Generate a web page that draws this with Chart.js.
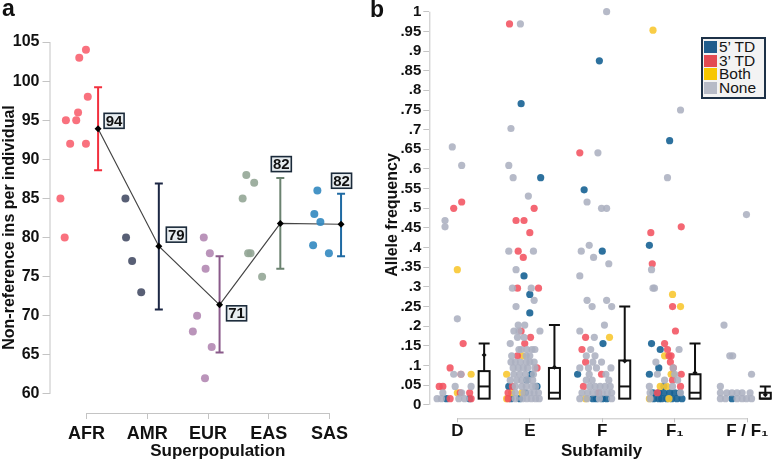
<!DOCTYPE html>
<html>
<head>
<meta charset="utf-8">
<script src="https://cdn.jsdelivr.net/npm/chart.js@4.4.1/dist/chart.umd.min.js"></script>
<style>
  body { margin: 0; background: #fff; width: 778px; height: 463px; position: relative; overflow: hidden; font-family: "Liberation Sans", Arial, sans-serif; }
  #panelA { position: absolute; left: 0; top: 0; }
  #panelB { position: absolute; left: 384px; top: 0; }
  #legend { position: absolute; left: 701px; top: 37px; width: 61px; height: 57px; border: 2px solid #1d3147; background: #f3f3f3; padding-top: 1px; }
  #legend div { height: 13.7px; line-height: 13.7px; font-size: 15.5px; color: #151515; white-space: nowrap; }
  #legend span { display: inline-block; width: 13px; height: 12px; margin: 0 2px 0 1px; vertical-align: -1px; }
</style>
</head>
<body>
<canvas id="panelA" width="390" height="463"></canvas>
<canvas id="panelB" width="394" height="463"></canvas>
<div id="legend"></div>
<script>
// ---- panel a: insertions per individual ----
const groups = ['AFR', 'AMR', 'EUR', 'EAS', 'SAS'];
// [jittered x, count]
const afrPts = [[-0.43, 85], [-0.36, 80], [-0.34, 95], [-0.27, 92], [-0.17, 95], [-0.14, 96], [-0.12, 103], [-0.01, 104], [0.02, 98], [-0.01, 92]];
const amrPts = [[0.64, 85], [0.65, 80], [0.75, 77], [0.90, 73]];
const eurPts = [[1.93, 80], [2.03, 78], [1.96, 76], [1.82, 70], [1.75, 68], [2.06, 66], [1.95, 62]];
const easPts = [[2.63, 88], [2.76, 87], [2.57, 85], [2.66, 78], [2.70, 78], [2.89, 75]];
const sasPts = [[3.80, 86], [3.75, 83], [3.85, 82], [3.73, 79], [3.99, 78]];
const meanIns = [93.9, 78.9, 71.4, 81.8, 81.7];
const sdLow = [88.6, 70.8, 65.3, 76.0, 77.6];
const sdHigh = [99.2, 86.9, 77.6, 87.6, 85.6];

// ---- panel b: allele frequency by subfamily ----
const subfamilies = ['D', 'E', 'F', 'F\u2081', 'F / F\u2081'];
const ptsNone = [
  [-0.07, .656], [0.06, .609], [-0.17, .469], [-0.17, .453], [0.0, .219], [-0.05, .078], [0.05, .078], [-0.03, .047], [0.19, .047], [-0.2, .031], [0.06, .031], [-0.28, .016], [-0.22, .016], [0.02, .016], [0.1, .016],
  [0.87, .969], [0.74, .703], [0.71, .609], [0.77, .578], [0.98, .531], [0.71, .391], [1.05, .391], [0.81, .344], [0.76, .297], [1.02, .297], [1.06, .266], [0.81, .25], [0.84, .203], [0.93, .203], [0.78, .188], [0.85, .188], [1.14, .188], [0.83, .172], [0.92, .172], [0.73, .156],
  [0.85, .141], [0.88, .141], [0.96, .141], [1.03, .141], [1.07, .141], [0.75, .125], [0.95, .125], [1.0, .125], [0.74, .109], [0.8, .109], [0.87, .109], [0.95, .109], [1.0, .109], [1.06, .109],
  [0.77, .094], [0.84, .094], [0.91, .094], [0.97, .094], [1.07, .094], [0.78, .078], [0.86, .078], [0.94, .078], [1.05, .078], [0.73, .063], [0.82, .063], [0.89, .063], [0.97, .063], [1.04, .063],
  [0.8, .047], [0.89, .047], [0.95, .047], [1.03, .047], [1.08, .047], [0.8, .031], [0.92, .031], [1.0, .031], [1.06, .031], [1.12, .031], [0.8, .016], [0.9, .016], [0.96, .016], [1.02, .016], [1.08, .016], [1.13, .016],
  [2.06, 1.0], [1.94, .641], [1.79, .516], [1.99, .5], [2.06, .5], [1.82, .406], [1.71, .391], [1.88, .375], [2.09, .359], [1.69, .328], [1.79, .266], [2.06, .266], [1.86, .25], [2.13, .25], [2.03, .203], [1.69, .188], [1.89, .172], [1.84, .141],
  [1.78, .125], [1.9, .125], [1.87, .109], [1.99, .109], [1.69, .094], [1.81, .094], [1.92, .094], [2.12, .094], [1.82, .078], [2.05, .078], [1.78, .063], [1.86, .063], [2.09, .063],
  [1.83, .047], [1.9, .047], [1.97, .047], [2.04, .047], [2.11, .047], [1.72, .031], [1.8, .031], [1.87, .031], [1.94, .031], [2.0, .031], [2.07, .031], [2.13, .031], [1.69, .016], [1.79, .016], [1.96, .016], [2.13, .016],
  [3.08, .75], [2.9, .578], [2.68, .344], [2.7, .297], [2.72, .297], [3.06, .141], [2.74, .109], [2.98, .094], [2.76, .078], [3.0, .078], [2.86, .063], [3.04, .063], [2.65, .047], [2.97, .047], [2.66, .031], [3.08, .031], [2.66, .016],
  [3.99, .484], [3.68, .203], [3.76, .125], [3.8, .125], [4.06, .078], [3.63, .047], [3.63, .031], [3.72, .031], [3.79, .031], [3.86, .031], [3.93, .031], [4.04, .031], [3.63, .016], [3.7, .016], [3.86, .016], [3.93, .016], [3.99, .016], [4.06, .016]
];
const pts3TD = [
  [0.06, .516], [-0.05, .5], [0.08, .156], [-0.1, .094], [0.05, .078], [-0.25, .047], [-0.2, .047], [0.17, .031], [0.04, .031], [-0.1, .016], [0.19, .016],
  [0.72, .969], [1.06, .5], [0.81, .469], [0.92, .469], [1.0, .438], [0.84, .391], [0.91, .375], [0.83, .297], [1.12, .297], [0.88, .188], [1.01, .172], [0.93, .156], [0.83, .125], [1.1, .094], [0.76, .047], [0.7, .031], [0.7, .016],
  [1.69, .641], [1.77, .172], [1.72, .141], [1.77, .109], [1.99, .078], [1.74, .047], [1.95, .031],
  [2.67, .438], [3.09, .453], [2.69, .359], [2.97, .25], [3.01, .188], [2.86, .156], [2.9, .141], [2.92, .125], [2.95, .125], [2.94, .109], [2.98, .094], [3.09, .078], [2.97, .063], [3.08, .047], [2.76, .031]
];
const pts5TD = [
  [-0.15, .016], [0.17, .016],
  [0.88, .766], [1.15, .578], [0.92, .328], [1.0, .281], [1.0, .234], [1.02, .078], [0.96, .063], [0.71, .047], [1.1, .047], [0.94, .031], [0.74, .016], [0.86, .016],
  [1.96, .875], [1.75, .547], [2.0, .391], [2.01, .156], [1.66, .078], [1.87, .016], [1.92, .016], [2.0, .016], [2.06, .016],
  [2.93, .672], [2.65, .406], [2.68, .156], [2.8, .141], [2.78, .094], [2.65, .078], [2.85, .047], [2.7, .031], [2.78, .031], [2.85, .031], [2.93, .031], [3.0, .031], [3.07, .031],
  [2.71, .016], [2.78, .016], [2.82, .016], [2.89, .016], [2.96, .016], [3.03, .016], [3.1, .016],
  [3.79, .016]
];
const ptsBoth = [
  [0.0, .344], [0.19, .078], [0.0, .031],
  [0.9, .125], [0.68, .078], [0.75, .031], [0.89, .031], [0.68, .016],
  [2.1, .172], [1.77, .016],
  [2.7, .953], [2.97, .281], [3.08, .25], [2.86, .125], [2.95, .078], [2.98, .078], [2.8, .047], [2.89, .047], [2.65, .016], [2.92, .016]
];
const boxQ1 = [.016, .016, .016, .016, .016];
const boxMed = [.047, .031, .047, .031, .016];
const boxQ3 = [.086, .094, .113, .078, .031];
const boxMax = [.156, .203, .25, .156, .047];
const boxMean = [.127, .096, .112, .082, .026];

// ---- styling ----
Chart.defaults.font.family = '"Liberation Sans", Arial, sans-serif';
Chart.defaults.color = '#111';
const popColors = ['rgba(248,98,112,0.9)', 'rgba(70,78,102,0.9)', 'rgba(178,136,178,0.9)', 'rgba(148,166,150,0.9)', 'rgba(50,136,192,0.9)'];
const barColors = ['#f2303e', '#1c2744', '#8a5a8a', '#6b8270', '#1f6aa3'];
const meanShift = 0.19;
const labelPos = [{ dx: 16, dy: -8 }, { dx: 17.5, dy: -11.5 }, { dx: 17, dy: 8.5 }, { dx: 1, dy: -14, top: true }, { dx: 0.5, dy: -13, top: true }];
const boxShift = [0.37, 0.34, 0.31, 0.28, 0.25];
const tdColors = { t5: '#1f5c8c', t3: '#e34a52', both: '#f7c700', none: '#b7bbc7' };
const axisGrey = '#c4c4c4';

// trimmed axis lines, from first to last tick
const spines = {
  id: 'spines',
  beforeDatasetsDraw(chart) {
    const { ctx, scales: { x, y } } = chart;
    const yt = y.ticks, xt = x.ticks;
    ctx.save();
    ctx.strokeStyle = axisGrey;
    ctx.lineWidth = 1;
    ctx.beginPath();
    ctx.moveTo(y.right + 0.5, y.getPixelForValue(yt[yt.length - 1].value));
    ctx.lineTo(y.right + 0.5, y.getPixelForValue(yt[0].value));
    ctx.moveTo(x.getPixelForValue(xt[0].value), x.top + 0.5);
    ctx.lineTo(x.getPixelForValue(xt[xt.length - 1].value), x.top + 0.5);
    ctx.stroke();
    ctx.restore();
  }
};

const errorBars = {
  id: 'errorBars',
  beforeDatasetsDraw(chart) {
    const { ctx, scales: { x, y } } = chart;
    ctx.save();
    ctx.lineWidth = 2;
    meanIns.forEach((m, i) => {
      const px = x.getPixelForValue(i + meanShift);
      const top = y.getPixelForValue(sdHigh[i]), bot = y.getPixelForValue(sdLow[i]);
      ctx.strokeStyle = barColors[i];
      ctx.beginPath();
      ctx.moveTo(px, top); ctx.lineTo(px, bot);
      ctx.moveTo(px - 4, top); ctx.lineTo(px + 4, top);
      ctx.moveTo(px - 4, bot); ctx.lineTo(px + 4, bot);
      ctx.stroke();
    });
    ctx.restore();
  },
  afterDatasetsDraw(chart) {
    const { ctx, scales: { x, y } } = chart;
    ctx.save();
    ctx.font = 'bold 15px "Liberation Sans", Arial, sans-serif';
    ctx.textAlign = 'center';
    ctx.textBaseline = 'middle';
    meanIns.forEach((m, i) => {
      const p = labelPos[i];
      const cx = x.getPixelForValue(i + meanShift) + p.dx;
      const cy = y.getPixelForValue(p.top ? sdHigh[i] : m) + p.dy;
      ctx.fillStyle = '#e8edf0';
      ctx.strokeStyle = '#1b2a3a';
      ctx.lineWidth = 1.6;
      ctx.fillRect(cx - 10, cy - 7.5, 20, 15);
      ctx.strokeRect(cx - 10, cy - 7.5, 20, 15);
      ctx.fillStyle = '#111';
      ctx.fillText(String(Math.round(m)), cx, cy + 1);
    });
    ctx.fillStyle = '#111';
    ctx.font = 'bold 23px "Liberation Sans", Arial, sans-serif';
    ctx.textAlign = 'left';
    ctx.textBaseline = 'alphabetic';
    ctx.fillText('a', 2, 16);
    ctx.fillText('b', 370, 17);
    ctx.restore();
  }
};

const boxPlots = {
  id: 'boxPlots',
  afterDatasetsDraw(chart) {
    const { ctx, scales: { x, y } } = chart;
    ctx.save();
    ctx.strokeStyle = '#111';
    ctx.lineWidth = 2;
    subfamilies.forEach((s, i) => {
      const cx = x.getPixelForValue(i + boxShift[i]);
      const hw = 5.5;
      const q1 = y.getPixelForValue(boxQ1[i]), q3 = y.getPixelForValue(boxQ3[i]);
      const md = y.getPixelForValue(boxMed[i]), mx = y.getPixelForValue(boxMax[i]);
      const mn = y.getPixelForValue(boxMean[i]);
      ctx.beginPath();
      ctx.moveTo(cx, q3); ctx.lineTo(cx, mx);
      ctx.moveTo(cx - hw, mx); ctx.lineTo(cx + hw, mx);
      ctx.stroke();
      ctx.fillStyle = '#fff';
      ctx.fillRect(cx - hw, q3, 2 * hw, q1 - q3);
      ctx.strokeRect(cx - hw, q3, 2 * hw, q1 - q3);
      ctx.beginPath();
      ctx.moveTo(cx - hw, md); ctx.lineTo(cx + hw, md);
      ctx.stroke();
      ctx.fillStyle = '#111';
      ctx.beginPath();
      ctx.moveTo(cx, mn - 2.5); ctx.lineTo(cx + 2.5, mn); ctx.lineTo(cx, mn + 2.5); ctx.lineTo(cx - 2.5, mn);
      ctx.closePath();
      ctx.fill();
    });
    ctx.restore();
  }
};

// ---- chart a ----
const popSets = [afrPts, amrPts, eurPts, easPts, sasPts].map((pts, i) => ({
  label: groups[i],
  data: pts,
  backgroundColor: popColors[i],
  borderWidth: 0,
  pointRadius: 4,
  clip: false
}));

new Chart(document.getElementById('panelA'), {
  type: 'scatter',
  plugins: [spines, errorBars],
  data: {
    datasets: [
      ...popSets,
      {
        label: 'mean',
        data: meanIns.map((m, i) => ({ x: i + meanShift, y: m })),
        showLine: true,
        borderColor: '#454545',
        borderWidth: 1.2,
        backgroundColor: '#000',
        pointStyle: 'rectRot',
        pointRadius: 3.5,
        pointBorderWidth: 0
      }
    ]
  },
  options: {
    responsive: false,
    animation: false,
    layout: { padding: { top: 42, right: 0, left: 0, bottom: 0 } },
    plugins: { legend: { display: false }, tooltip: { enabled: false } },
    scales: {
      x: {
        type: 'linear', min: -0.61, max: 4.93,
        afterBuildTicks: s => { s.ticks = groups.map((g, i) => ({ value: i })); },
        afterFit: s => { s.height = 50; },
        border: { display: false },
        grid: { drawOnChartArea: false, color: axisGrey, tickLength: 6 },
        ticks: { autoSkip: false, maxRotation: 0, padding: 4, font: { size: 18, weight: 'bold' }, callback: v => groups[v] },
        title: { display: true, text: 'Superpopulation', font: { size: 17, weight: 'bold' }, padding: { top: 0, bottom: 1 } }
      },
      y: {
        min: 57.57, max: 105,
        afterFit: s => { s.width = 49.5; },
        border: { display: false },
        grid: { drawOnChartArea: false, color: axisGrey, tickLength: 7 },
        ticks: { stepSize: 5, autoSkip: false, includeBounds: false, padding: 3, font: { size: 16, weight: 'bold' } },
        title: { display: true, text: 'Non-reference ins per individual', font: { size: 16, weight: 'bold' }, padding: 0 }
      }
    }
  }
});

// ---- chart b ----
const tdSets = [
  { label: 'None', data: ptsNone, backgroundColor: 'rgba(172,176,192,0.88)' },
  { label: "3' TD", data: pts3TD, backgroundColor: 'rgba(242,82,96,0.88)' },
  { label: 'Both', data: ptsBoth, backgroundColor: 'rgba(248,200,50,0.9)' },
  { label: "5' TD", data: pts5TD, backgroundColor: 'rgba(22,98,148,0.9)' }
].map(d => ({ ...d, borderWidth: 0, pointRadius: 3.6, clip: false }));

new Chart(document.getElementById('panelB'), {
  type: 'scatter',
  plugins: [spines, boxPlots],
  data: { datasets: tdSets },
  options: {
    responsive: false,
    animation: false,
    layout: { padding: { top: 11.7, right: 0, left: 0, bottom: 0 } },
    plugins: { legend: { display: false }, tooltip: { enabled: false } },
    scales: {
      x: {
        type: 'linear', min: -0.387, max: 4.37,
        afterBuildTicks: s => { s.ticks = subfamilies.map((g, i) => ({ value: i })); },
        afterFit: s => { s.height = 44.7; },
        border: { display: false },
        grid: { drawOnChartArea: false, color: axisGrey, tickLength: 4 },
        ticks: { autoSkip: false, maxRotation: 0, padding: 1, font: { size: 17, weight: 'bold', lineHeight: 1 }, callback: v => subfamilies[v] },
        title: { display: true, text: 'Subfamily', font: { size: 17, weight: 'bold' }, padding: { top: 0, bottom: 1 } }
      },
      y: {
        min: -0.034, max: 1,
        afterFit: s => { s.width = 45.3; },
        border: { display: false },
        grid: { drawOnChartArea: false, color: axisGrey, tickLength: 6 },
        ticks: {
          stepSize: 0.05, autoSkip: false, includeBounds: false, padding: 2, font: { size: 15, weight: 'bold' },
          callback: v => String(parseFloat(v.toFixed(2))).replace(/^0\./, '.')
        },
        title: { display: true, text: 'Allele frequency', font: { size: 16, weight: 'bold', lineHeight: 1.1 }, padding: 0 }
      }
    }
  }
});

// legend for panel b
const legendItems = [["5\u2019 TD", tdColors.t5], ["3\u2019 TD", tdColors.t3], ['Both', tdColors.both], ['None', tdColors.none]];
document.getElementById('legend').innerHTML = legendItems
  .map(([t, c]) => `<div><span style="background:${c}"></span>${t}</div>`).join('');
</script>
</body>
</html>
